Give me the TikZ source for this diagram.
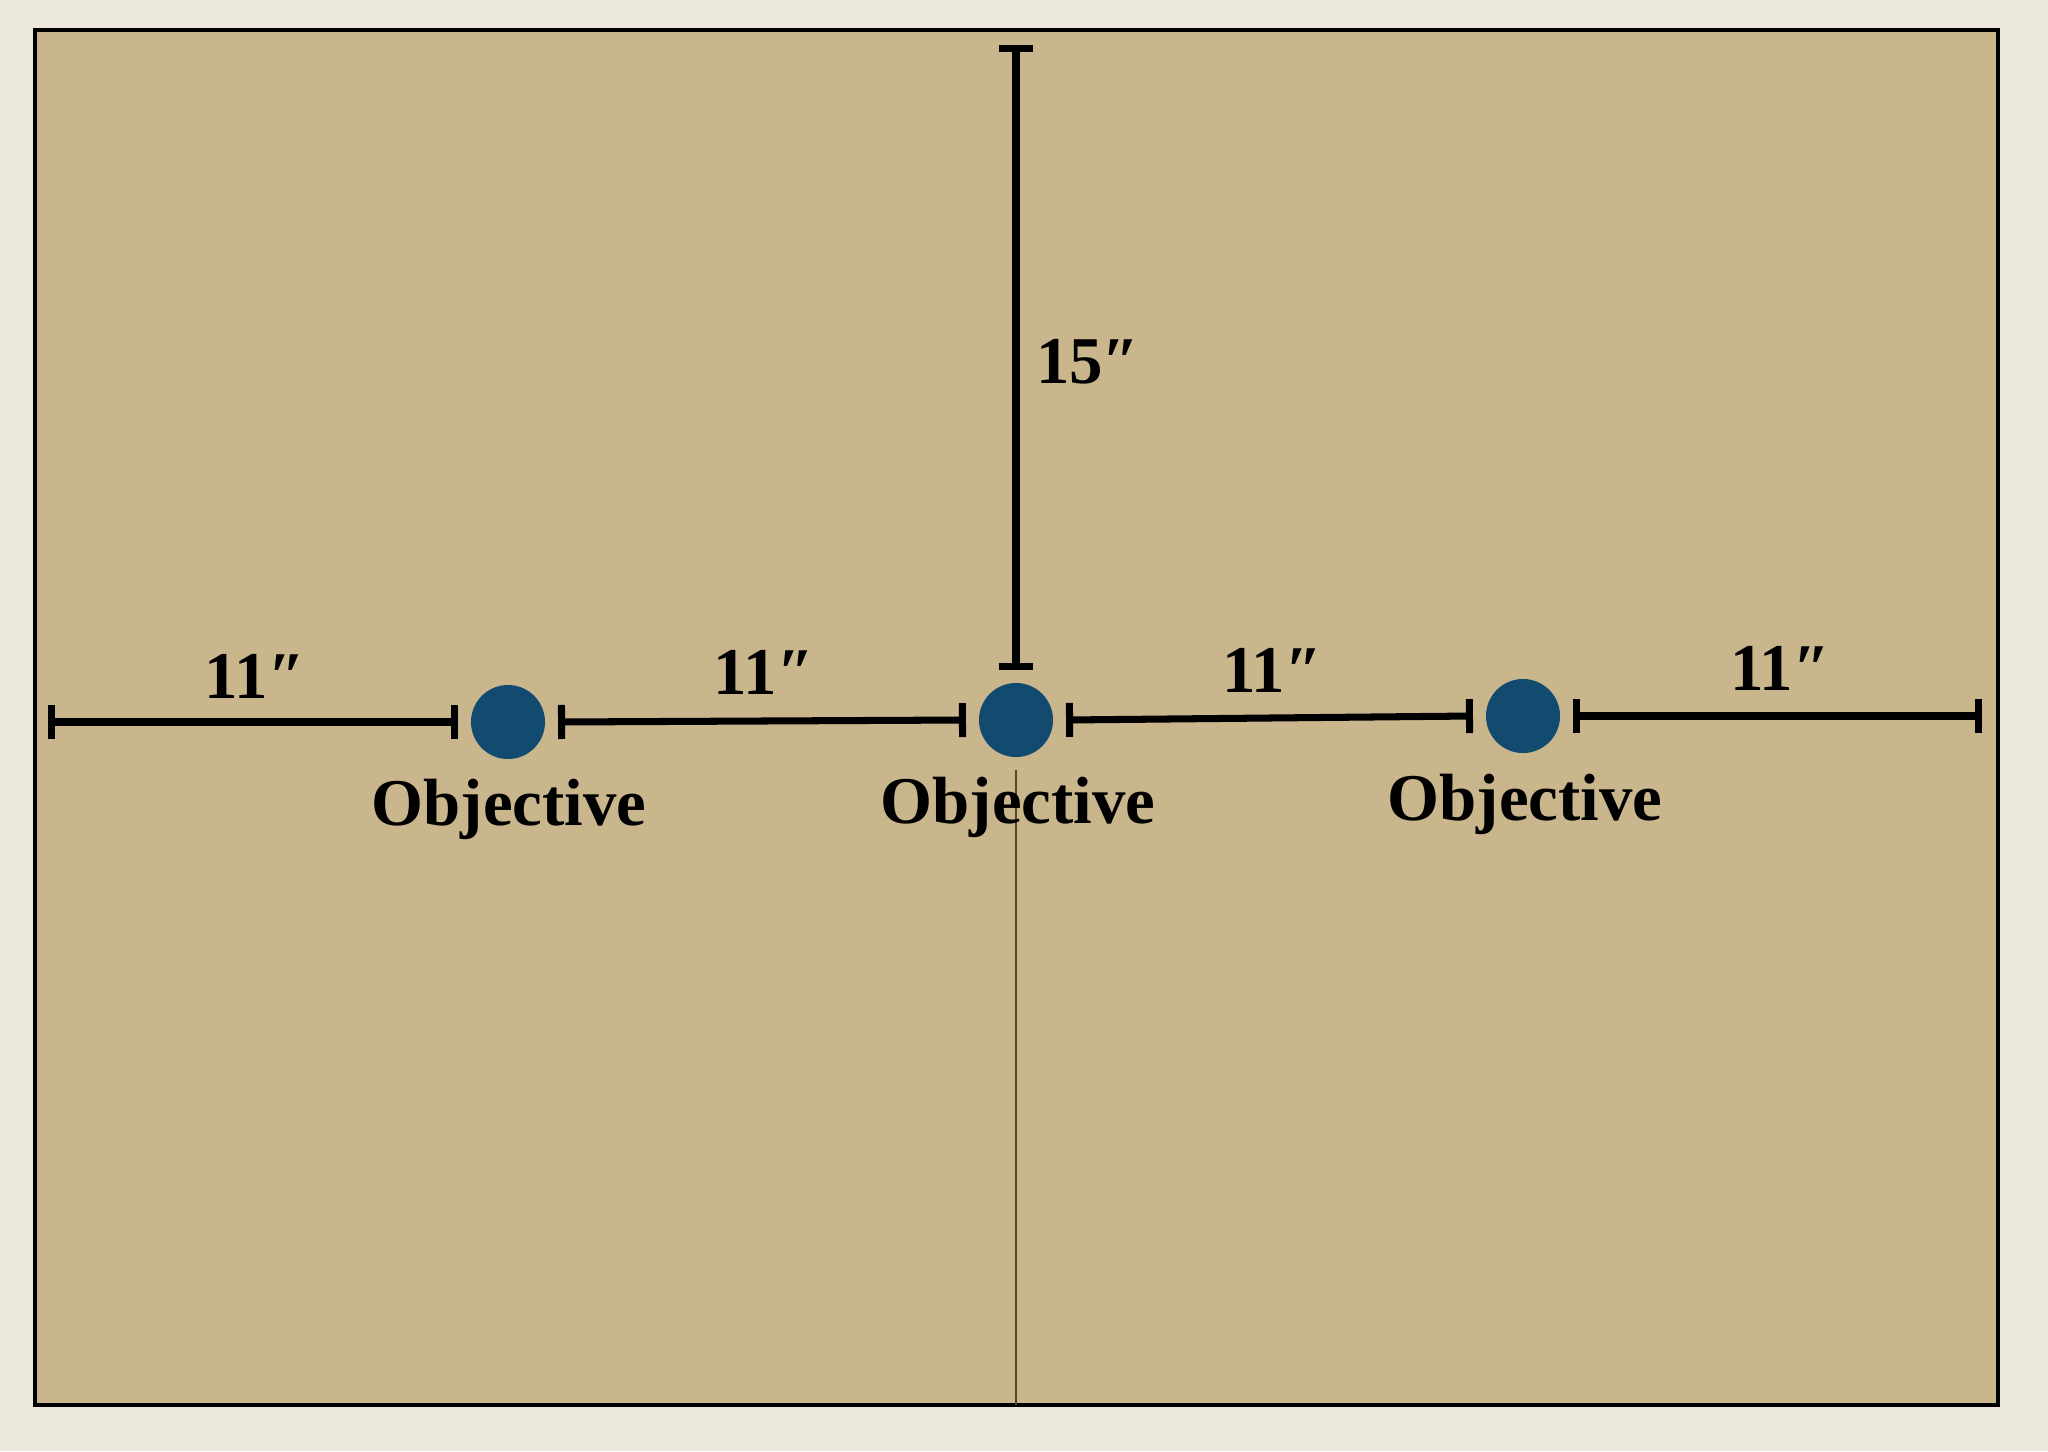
\documentclass[tikz,border=0pt]{standalone}
\usepackage{fontspec}
\setmainfont{Liberation Serif}
\usepackage{tikz}
\usetikzlibrary{arrows.meta}
\usetikzlibrary{positioning}

\definecolor{paper}{RGB}{236,232,220}
\definecolor{board}{RGB}{201,182,140}
\definecolor{objblue}{RGB}{18,74,112}
\definecolor{fold}{RGB}{90,70,40}

\begin{document}
\begin{tikzpicture}
    [
    x=0.01cm, y=-0.01cm,
    objective/.style={circle,fill=objblue,inner sep=0pt,minimum size=0.74cm,outer sep=0.13cm},
    measure/.style={line width=2pt,{Bar[width=0.34cm,line width=2pt]}-{Bar[width=0.34cm,line width=2pt]}},
    dimtext/.style={anchor=base,font=\bfseries\fontsize{19}{22}\selectfont},
    ]
    \useasboundingbox (0,0) rectangle (2048,1451);
    \fill [paper] (0,0) rectangle (2048,1451);
    \draw [fill=board, line width=1.2pt] (35,30) rectangle (1998,1405);

    \node (1) at (508,722) [objective] {};
    \node (2) at (1016,720) [objective] {};
    \node (3) at (1523,716) [objective] {};
    \coordinate (left) at (48,722);
    \coordinate (right) at (1982,716);
    \coordinate (top) at (1016,45);
    \coordinate (bottom) at (1016,1405);

    \draw [fold, line width=0.6pt] (2.south) to (bottom);
    \draw [measure] (left) to (1.west);
    \draw [measure] (1.east) to (2.west);
    \draw [measure] (2.east) to (3.west);
    \draw [measure] (3.east) to (right);
    \draw [measure] (top) to (2.north);

    \node at (255,698) [dimtext] {11″};
    \node at (764,694) [dimtext] {11″};
    \node at (1272,692) [dimtext] {11″};
    \node at (1780,690) [dimtext] {11″};
    \node at (1088,383) [dimtext] {15″};

    \node at (509,825) [dimtext] {Objective};
    \node at (1018,823) [dimtext] {Objective};
    \node at (1525,820) [dimtext] {Objective};
\end{tikzpicture}
\end{document}
